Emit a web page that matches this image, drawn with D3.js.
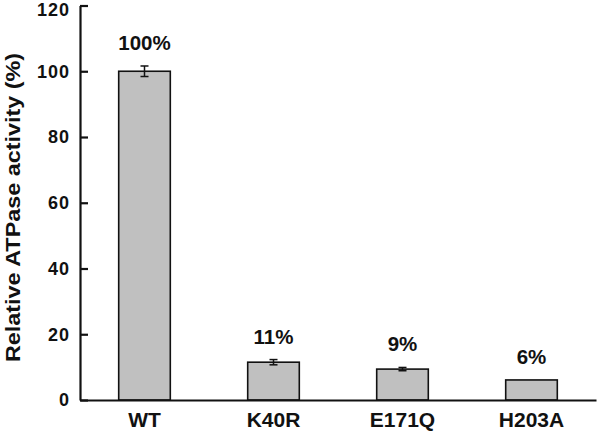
<!DOCTYPE html>
<html>
<head>
<meta charset="utf-8">
<script src="https://cdn.jsdelivr.net/npm/d3@7"></script>
<style>
    body { margin: 0; background: #fff; }
    text { font-family: "Liberation Sans", Arial, sans-serif; font-weight: bold; }
</style>
</head>
<body>
<svg id="Chart"></svg>
<script>
let mutants = ["WT", "K40R", "E171Q", "H203A"];
let activity = [100, 11.5, 9.4, 6.1];
let errors = [1.6, 0.8, 0.5, 0];
let percentLabels = ["100%", "11%", "9%", "6%"];
let yTicks = [0, 20, 40, 60, 80, 100, 120];

function getConfig() {
    let width = 600;
    let height = 441;
    let margin = { top: 5.5, bottom: 41, left: 80, right: 4 };
    let bodyWidth = width - margin.left - margin.right;
    let bodyHeight = height - margin.top - margin.bottom;
    let container = d3.select("#Chart")
        .attr("width", width)
        .attr("height", height);
    return { width, height, margin, bodyWidth, bodyHeight, container };
}

function getScales(config) {
    let { bodyWidth, bodyHeight } = config;
    let xScale = d3.scaleBand()
        .range([0, bodyWidth])
        .domain(mutants)
        .paddingInner(0.6)
        .paddingOuter(0.3);
    let yScale = d3.scaleLinear()
        .range([bodyHeight, 0])
        .domain([0, 120]);
    return { xScale, yScale };
}

function drawBars(scales, config) {
    let { margin, container } = config;
    let { xScale, yScale } = scales;
    let body = container.append("g")
        .attr("transform", `translate(${margin.left},${margin.top})`);

    let data = mutants.map((m, i) => ({ name: m, value: activity[i], err: errors[i], label: percentLabels[i] }));

    body.selectAll(".bar")
        .data(data)
        .enter().append("rect")
        .attr("class", "bar")
        .attr("x", d => xScale(d.name))
        .attr("y", d => yScale(d.value))
        .attr("width", xScale.bandwidth())
        .attr("height", d => yScale(0) - yScale(d.value))
        .attr("fill", "#c0c0c0")
        .attr("stroke", "#111")
        .attr("stroke-width", 1.6);

    // error bars
    let err = body.selectAll(".err")
        .data(data.filter(d => d.err > 0))
        .enter().append("g")
        .attr("stroke", "#111")
        .attr("stroke-width", 1.5);
    let cx = d => xScale(d.name) + xScale.bandwidth() / 2;
    err.append("line")
        .attr("x1", cx).attr("x2", cx)
        .attr("y1", d => yScale(d.value + d.err))
        .attr("y2", d => yScale(d.value - d.err));
    err.append("line")
        .attr("x1", d => cx(d) - 4).attr("x2", d => cx(d) + 4)
        .attr("y1", d => yScale(d.value + d.err))
        .attr("y2", d => yScale(d.value + d.err));
    err.append("line")
        .attr("x1", d => cx(d) - 4).attr("x2", d => cx(d) + 4)
        .attr("y1", d => yScale(d.value - d.err))
        .attr("y2", d => yScale(d.value - d.err));

    body.selectAll(".pct")
        .data(data)
        .enter().append("text")
        .attr("class", "pct")
        .attr("x", cx)
        .attr("y", d => yScale(d.value + d.err) - 16)
        .attr("text-anchor", "middle")
        .attr("font-size", "20.5px")
        .attr("fill", "#111")
        .text(d => d.label);
}

function drawAxes(scales, config) {
    let { xScale, yScale } = scales;
    let { container, margin, bodyWidth, bodyHeight } = config;

    let axisY = d3.axisLeft(yScale)
        .tickValues(yTicks)
        .tickSizeInner(-8)
        .tickSizeOuter(0)
        .tickPadding(10);
    let gy = container.append("g")
        .attr("transform", `translate(${margin.left},${margin.top})`)
        .call(axisY);
    gy.selectAll("text")
        .attr("font-size", "18px")
        .attr("letter-spacing", "1px")
        .attr("fill", "#111");
    // top label sits a little below its tick so it is not clipped
    gy.selectAll(".tick").filter(d => d === 120).select("text").attr("y", 4.5);

    let axisX = d3.axisBottom(xScale)
        .tickSize(0)
        .tickPadding(12);
    let gx = container.append("g")
        .attr("transform", `translate(${margin.left},${margin.top + bodyHeight})`)
        .call(axisX);
    gx.selectAll("text").attr("font-size", "21px").attr("fill", "#111");

    // ticks between categories, pointing up
    let step = xScale.step();
    let bounds = mutants.map((m, i) => xScale(m) + xScale.bandwidth() + step * xScale.paddingInner() / 2);
    gx.selectAll(".sep")
        .data(bounds)
        .enter().append("line")
        .attr("x1", d => d).attr("x2", d => d)
        .attr("y1", 0).attr("y2", -6);

    container.selectAll(".domain, .tick line, .sep")
        .attr("stroke", "#111")
        .attr("stroke-width", 2.2);

    container.append("text")
        .attr("transform", `translate(20,207.5) rotate(-90)`)
        .attr("text-anchor", "middle")
        .attr("font-size", "21px")
        .attr("textLength", 309)
        .attr("lengthAdjust", "spacingAndGlyphs")
        .attr("fill", "#111")
        .text("Relative ATPase activity (%)");
}

let config = getConfig();
let scales = getScales(config);
drawBars(scales, config);
drawAxes(scales, config);
</script>
</body>
</html>
